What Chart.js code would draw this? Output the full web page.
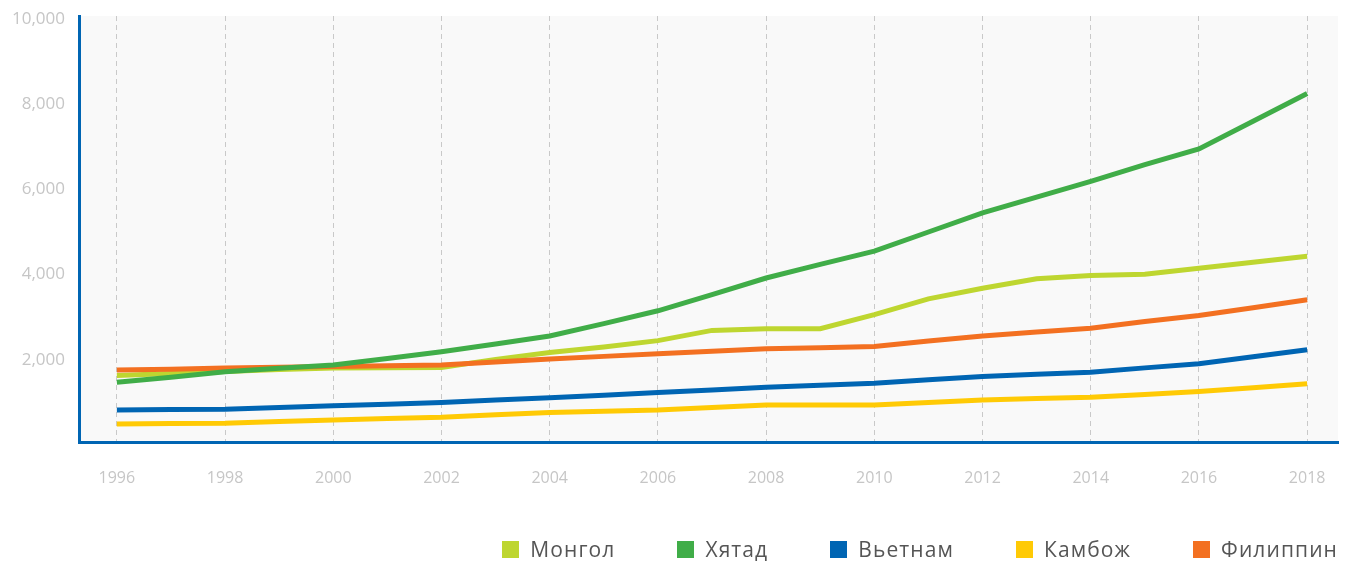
<!DOCTYPE html>
<html>
<head>
<meta charset="utf-8">
<script src="https://cdn.jsdelivr.net/npm/chart.js@4/dist/chart.umd.min.js"></script>
<style>
    body { margin: 0; background: #fff; }
    .wrap { position: relative; width: 1346px; height: 561px; }
    .legend { position: absolute; right: 8px; top: 535px; display: flex; gap: 62px;
              font-family: "Open Sans", sans-serif; font-size: 21px; letter-spacing: 1.1px; color: #555; }
    .legend span { display: flex; align-items: center; }
    .legend i { display: inline-block; width: 17px; height: 17px; margin-right: 11px; }
</style>
</head>
<body>
<div class="wrap">
    <canvas id="theGraph"></canvas>
    <div class="legend" id="theLegend"></div>
</div>
<script>
var years = [1996, 1997, 1998, 1999, 2000, 2001, 2002, 2003, 2004, 2005, 2006, 2007,
             2008, 2009, 2010, 2011, 2012, 2013, 2014, 2015, 2016, 2017, 2018];
var yearTicks = [1996, 1998, 2000, 2002, 2004, 2006, 2008, 2010, 2012, 2014, 2016, 2018];

var mongol = [1560, 1610, 1655, 1700, 1735, 1745, 1750, 1940, 2100, 2230, 2380, 2620,
              2660, 2660, 2990, 3360, 3610, 3830, 3910, 3940, 4080, 4220, 4360];
var khyatad = [1400, 1520, 1650, 1730, 1810, 1960, 2120, 2300, 2490, 2780, 3080, 3460,
               3850, 4170, 4480, 4930, 5380, 5750, 6120, 6510, 6880, 7530, 8180];
var vietnam = [750, 760, 770, 810, 850, 885, 925, 985, 1040, 1100, 1160, 1220,
               1285, 1330, 1380, 1460, 1540, 1590, 1640, 1740, 1835, 2000, 2165];
var kambozh = [425, 432, 440, 480, 518, 550, 580, 640, 690, 720, 750, 810,
               870, 870, 870, 930, 985, 1020, 1050, 1115, 1185, 1275, 1365];
var filippin = [1690, 1710, 1735, 1755, 1770, 1790, 1810, 1880, 1950, 2010, 2070, 2130,
                2190, 2215, 2240, 2370, 2490, 2580, 2670, 2830, 2970, 3150, 3340];

var names = ["Монгол", "Хятад", "Вьетнам", "Камбож", "Филиппин"];
var colors = ["#bed630", "#40ad48", "#0065b3", "#ffca05", "#f37021"];
var series = [mongol, khyatad, vietnam, kambozh, filippin];
var drawOrder = [2, 0, 3, 4, 1];

var plotBackground = {
    id: "plotBackground",
    beforeDraw: function(chart) {
        var ctx = chart.ctx, a = chart.chartArea;
        ctx.save();
        ctx.fillStyle = "#f9f9f9";
        ctx.fillRect(a.left, a.top, a.right - a.left, a.bottom - a.top);
        ctx.restore();
    }
};

function pointsOf(values) {
    return years.map(function(yr, i) { return {x: yr, y: values[i]}; });
}

var datasets = series.map(function(values, i) {
    return {
        label: names[i],
        data: pointsOf(values),
        borderColor: colors[i],
        backgroundColor: colors[i],
        borderWidth: 5,
        pointRadius: 0,
        tension: 0,
        order: drawOrder[i]
    };
});

var ctx = document.getElementById("theGraph").getContext("2d");
var theGraph = new Chart(ctx, {
    type: "line",
    data: {datasets: datasets},
    plugins: [plotBackground],
    options: {
        responsive: true,
        maintainAspectRatio: false,
        animation: false,
        layout: {padding: {top: 16, right: 8, left: 0, bottom: 0}},
        plugins: {
            legend: {display: false},
            tooltip: {enabled: false}
        },
        scales: {
            x: {
                type: "linear",
                min: 1995.3,
                max: 2018.57,
                afterBuildTicks: function(scale) {
                    scale.ticks = yearTicks.map(function(v) { return {value: v}; });
                },
                afterFit: function(scale) {
                    scale.height = 119;
                    scale.paddingLeft = 0;
                    scale.paddingRight = 0;
                },
                grid: {color: "#c9c9c9", lineWidth: 1, drawTicks: false},
                border: {color: "#0065b3", width: 3, dash: [5, 4]},
                ticks: {
                    color: "#c6c6c6",
                    font: {family: "'Open Sans', sans-serif", size: 16},
                    padding: 27,
                    maxRotation: 0,
                    callback: function(value) { return String(value); }
                }
            },
            y: {
                min: 0,
                max: 10000,
                afterFit: function(scale) {
                    scale.width = 79;
                    scale.paddingTop = 0;
                    scale.paddingBottom = 0;
                },
                grid: {display: false, drawTicks: false, tickLength: 0},
                border: {color: "#0065b3", width: 3},
                ticks: {
                    stepSize: 2000,
                    color: "#c6c6c6",
                    font: {family: "'Open Sans', sans-serif", size: 17},
                    padding: 14,
                    labelOffset: 3,
                    callback: function(value) {
                        return value === 0 ? "" : value.toLocaleString("en-US");
                    }
                }
            }
        }
    }
});

var legend = document.getElementById("theLegend");
names.forEach(function(name, i) {
    var item = document.createElement("span");
    var box = document.createElement("i");
    box.style.background = colors[i];
    item.appendChild(box);
    item.appendChild(document.createTextNode(name));
    legend.appendChild(item);
});
</script>
</body>
</html>
